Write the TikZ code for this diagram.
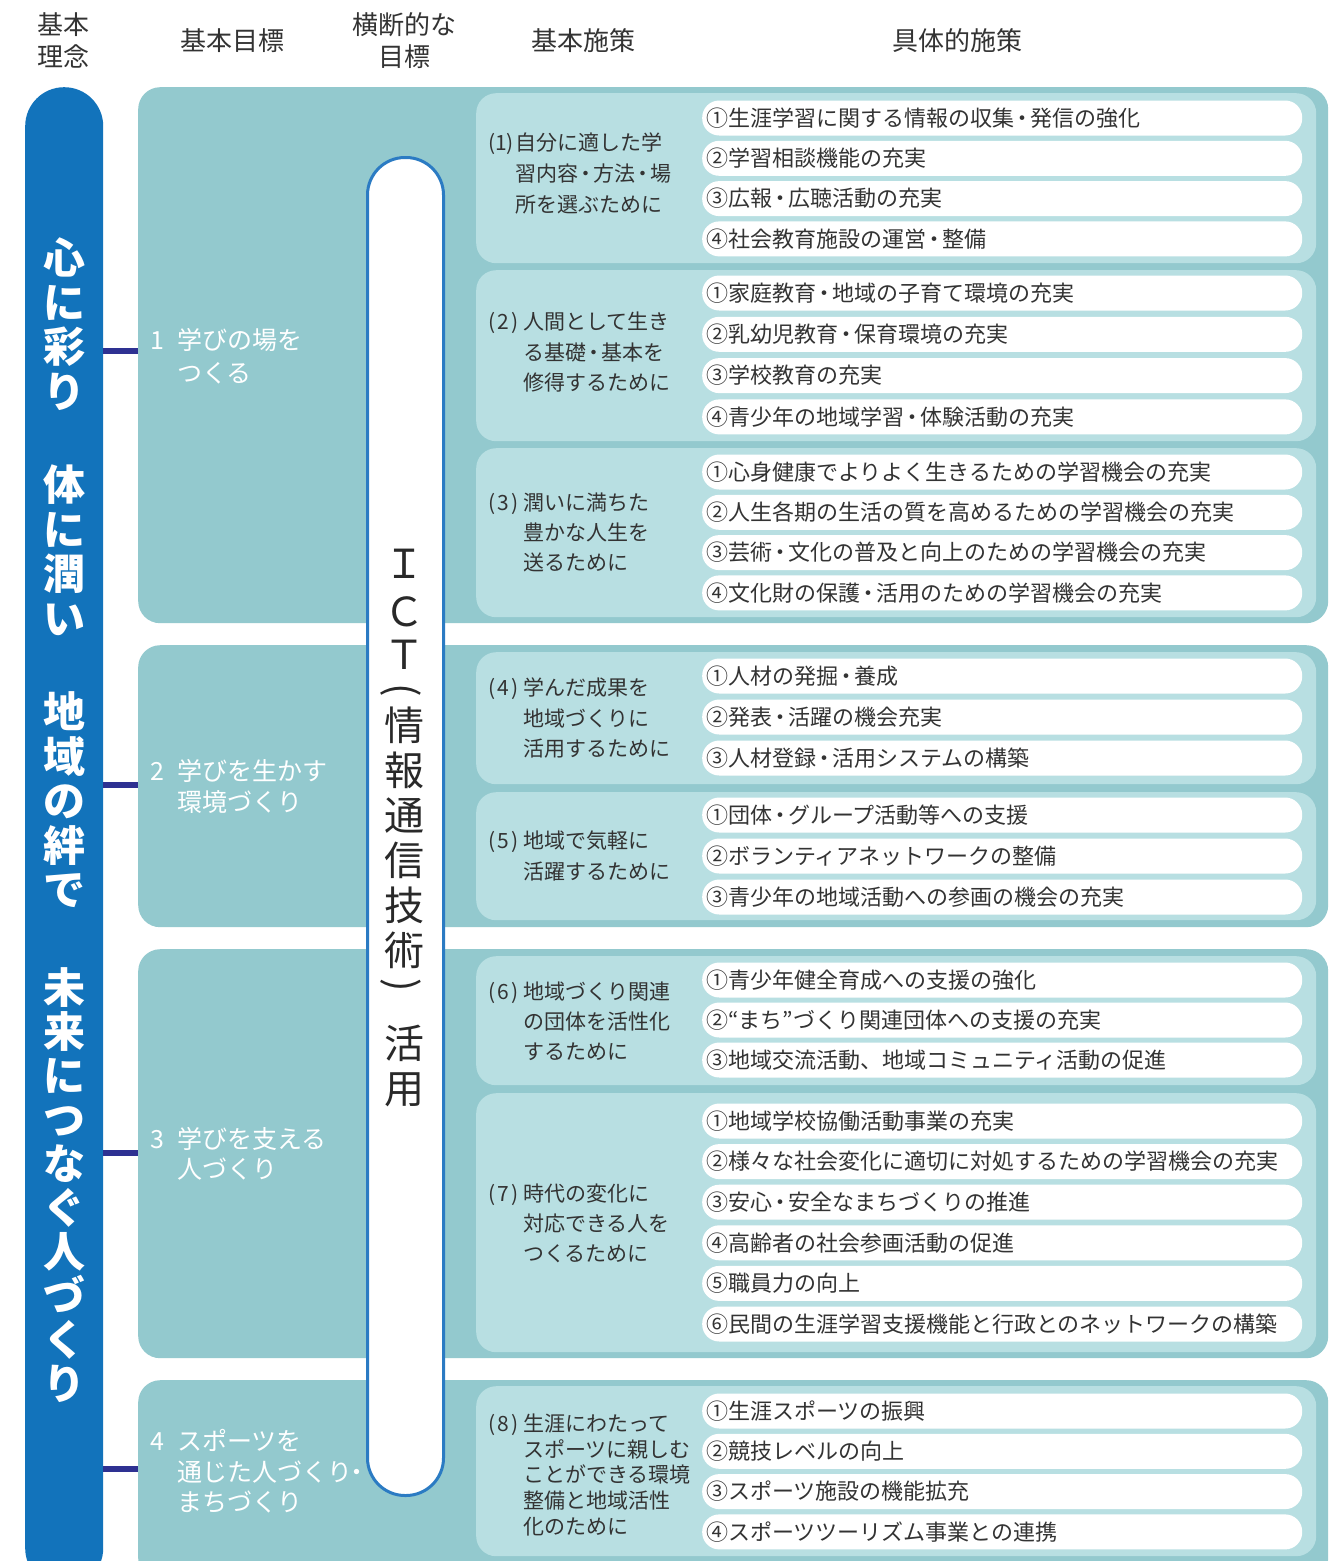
\documentclass[tikz,border=0pt]{standalone}
\usepackage{fontspec}
\setmainfont{Noto Sans CJK JP}
\definecolor{panelc}{HTML}{93C9CE}
\definecolor{subc}{HTML}{B8DFE2}
\definecolor{pillblue}{HTML}{1273BB}
\definecolor{ictblue}{HTML}{2B7BC3}
\definecolor{navy}{HTML}{2E3192}
\definecolor{txt}{HTML}{333333}
\tikzset{
 panel/.style={fill=panelc, rounded corners=22pt, inner sep=0, anchor=north west},
 subp/.style={fill=subc, rounded corners=20pt, inner sep=0, anchor=north west},
 bar/.style={fill=white, rounded corners=17pt, minimum width=600pt, minimum height=35pt, inner sep=0},
 itemt/.style={inner sep=0, anchor=west, text=txt, font=\fontsize{22}{26}\selectfont, text height=19.36pt, text depth=2.64pt},
 pol/.style={inner sep=0, anchor=west, text=txt, font=\fontsize{21}{25}\selectfont, text height=18.48pt, text depth=2.52pt},
 goal/.style={inner sep=0, anchor=west, text=white, font=\fontsize{25}{30}\selectfont, text height=22pt, text depth=3pt},
 head/.style={inner sep=0, anchor=center, text=txt, font=\fontsize{26}{30}\selectfont, text height=22.88pt, text depth=3.12pt},
 pillch/.style={inner sep=0, anchor=center, text=white, font=\fontsize{42}{46}\selectfont\bfseries, text height=36.96pt, text depth=5.04pt},
 ictch/.style={inner sep=0, anchor=center, text=txt!80!black, font=\fontsize{40}{44}\selectfont, text height=35.2pt, text depth=4.8pt},
 conn/.style={draw=navy, line width=6pt}
}
\newcommand\dotk{\kern-3pt・\kern-3pt}
\newcommand\itemgroup[4]{%
 \foreach \t [count=\i] in {#4}{%
   \pgfmathsetmacro\yc{#2+(\i-1)*#3}%
   \node[bar, anchor=west] (b#1-\i) at (702,\yc) {};
   \node[itemt] (t#1-\i) at (706,\yc) {\t};
 }}
\newcommand\policy[6]{%
 \node[pol] (pn#1) at (488,#4) {#2};
 \foreach \t [count=\i] in {#6}{%
   \pgfmathsetmacro\yc{#4+(\i-1)*#5}%
   \node[pol] (pt#1-\i) at (#3,\yc) {\t};
 }}
\newcommand\vchars[6]{%
 \foreach \c [count=\i] in {#6}{%
   \pgfmathsetmacro\yc{#3+(\i-1)*#4}%
   \node[#5] (#1-\i) at (#2,\yc) {\c};
 }}
\newcommand\pnum[1]{(\kern2.5pt#1\kern2.5pt)}
\begin{document}
\begin{tikzpicture}[x=1pt,y=-1pt]
\clip (0,0) rectangle (1336,1561);
\fill[white] (0,0) rectangle (1336,1561);
% headers
\node[head] (h1a) at (63,25) {基本};
\node[head] (h1b) at (63,57) {理念};
\node[head] (h2) at (232,41) {基本目標};
\node[head] (h3a) at (404,25) {横断的な};
\node[head] (h3b) at (404,57) {目標};
\node[head] (h4) at (583,41) {基本施策};
\node[head] (h5) at (957,41) {具体的施策};
% left pill
\node[fill=pillblue, rounded corners=38.9pt, minimum width=78pt, minimum height=1500pt, inner sep=0, anchor=north west] (pill) at (25,87) {};
% connectors
\coordinate (k1) at (140,351);
\coordinate (k2) at (140,785);
\coordinate (k3) at (140,1153);
\coordinate (k4) at (140,1469);
\foreach \k in {k1,k2,k3,k4} \draw[conn] (pill.east |- \k) -- (\k);
% panels
\node[panel, minimum width=1190pt, minimum height=536pt] (g1) at (138,87) {};
\node[panel, minimum width=1190pt, minimum height=282pt] (g2) at (138,645) {};
\node[panel, minimum width=1190pt, minimum height=409pt] (g3) at (138,949) {};
\node[panel, minimum width=1190pt, minimum height=200pt] (g4) at (138,1380) {};
% sub panels
\node[subp, minimum width=840pt, minimum height=170pt] (s1) at (476,93) {};
\node[subp, minimum width=840pt, minimum height=171pt] (s2) at (476,270) {};
\node[subp, minimum width=840pt, minimum height=169pt] (s3) at (476,448) {};
\node[subp, minimum width=840pt, minimum height=132pt] (s4) at (476,652) {};
\node[subp, minimum width=840pt, minimum height=128pt] (s5) at (476,792) {};
\node[subp, minimum width=840pt, minimum height=129pt] (s6) at (476,956) {};
\node[subp, minimum width=840pt, minimum height=259pt] (s7) at (476,1093) {};
\node[subp, minimum width=840pt, minimum height=170pt] (s8) at (476,1386) {};
% ICT pill
\node[draw=ictblue, line width=3pt, fill=white, rounded corners=37.5pt, minimum width=76pt, minimum height=1338pt, inner sep=0, anchor=north west] (ict) at (366,156) {};
% pill text
\vchars{pa}{64}{258}{44.5}{pillch}{心,に,彩,り}
\vchars{pb}{64}{485}{44.5}{pillch}{体,に,潤,い}
\vchars{pc}{64}{712}{44.5}{pillch}{地,域,の,絆,で}
\vchars{pd}{64}{988}{44}{pillch}{未,来,に,つ,な,ぐ,人,づ,く,り}
% ICT text
\foreach \c/\y [count=\i] in {Ｉ/563,Ｃ/611,Ｔ/654,情/725,報/770,通/815,信/860,技/905,術/950,活/1043,用/1088}
  \node[ictch] (ic-\i) at (404,\y) {\c};
\node[ictch, rotate=-90] (icpo) at (404,690) {(};
\node[ictch, rotate=-90] (icpc) at (404,985) {)};
% goal labels
\node[goal] (gn1) at (150,340) {1};
\node[goal] (gt1a) at (177,340) {学びの場を};
\node[goal] (gt1b) at (177,373) {つくる};
\node[goal] (gn2) at (150,771) {2};
\node[goal] (gt2a) at (177,771) {学びを生かす};
\node[goal] (gt2b) at (177,802) {環境づくり};
\node[goal] (gn3) at (150,1139) {3};
\node[goal] (gt3a) at (177,1139) {学びを支える};
\node[goal] (gt3b) at (177,1169) {人づくり};
\node[goal] (gn4) at (150,1441) {4};
\node[goal] (gt4a) at (177,1441) {スポーツを};
\node[goal] (gt4b) at (177,1472) {通じた人づくり\kern-8pt・};
\node[goal] (gt4c) at (177,1502) {まちづくり};
% policies
\policy{1}{(1)}{515}{143}{31}{自分に適した学,習内容\dotk 方法\dotk 場,所を選ぶために}
\policy{2}{\pnum{2}}{523}{322}{30.5}{人間として生き,る基礎\dotk 基本を,修得するために}
\policy{3}{\pnum{3}}{523}{503}{30}{潤いに満ちた,豊かな人生を,送るために}
\policy{4}{\pnum{4}}{523}{688}{30.5}{学んだ成果を,地域づくりに,活用するために}
\policy{5}{\pnum{5}}{523}{841}{31}{地域で気軽に,活躍するために}
\policy{6}{\pnum{6}}{523}{992}{30}{地域づくり関連,の団体を活性化,するために}
\policy{7}{\pnum{7}}{523}{1194}{30}{時代の変化に,対応できる人を,つくるために}
\policy{8}{\pnum{8}}{523}{1424}{25.5}{生涯にわたって,スポーツに親しむ,ことができる環境,整備と地域活性,化のために}
% items
\itemgroup{1}{118}{40.3}{①生涯学習に関する情報の収集\dotk 発信の強化,②学習相談機能の充実,③広報\dotk 広聴活動の充実,④社会教育施設の運営\dotk 整備}
\itemgroup{2}{293}{41.3}{①家庭教育\dotk 地域の子育て環境の充実,②乳幼児教育\dotk 保育環境の充実,③学校教育の充実,④青少年の地域学習\dotk 体験活動の充実}
\itemgroup{3}{472}{40.3}{①心身健康でよりよく生きるための学習機会の充実,②人生各期の生活の質を高めるための学習機会の充実,③芸術\dotk 文化の普及と向上のための学習機会の充実,④文化財の保護\dotk 活用のための学習機会の充実}
\itemgroup{4}{676}{41}{①人材の発掘\dotk 養成,②発表\dotk 活躍の機会充実,③人材登録\dotk 活用システムの構築}
\itemgroup{5}{815}{41}{①団体\dotk グループ活動等への支援,②ボランティアネットワークの整備,③青少年の地域活動への参画の機会の充実}
\itemgroup{6}{980}{40}{①青少年健全育成への支援の強化,②“まち”づくり関連団体への支援の充実,③地域交流活動、地域コミュニティ活動の促進}
\itemgroup{7}{1121}{40.6}{①地域学校協働活動事業の充実,②様々な社会変化に適切に対処するための学習機会の充実,③安心\dotk 安全なまちづくりの推進,④高齢者の社会参画活動の促進,⑤職員力の向上,⑥民間の生涯学習支援機能と行政とのネットワークの構築}
\itemgroup{8}{1411}{40.3}{①生涯スポーツの振興,②競技レベルの向上,③スポーツ施設の機能拡充,④スポーツツーリズム事業との連携}
\end{tikzpicture}
\end{document}
